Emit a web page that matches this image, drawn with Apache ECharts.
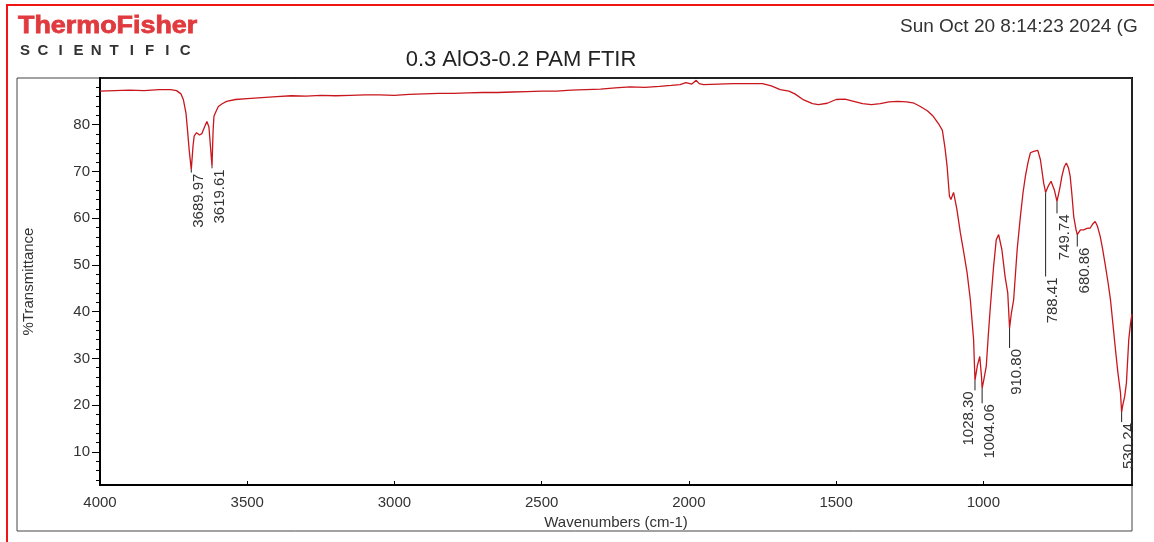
<!DOCTYPE html>
<html>
<head>
<meta charset="utf-8">
<script src="https://cdn.jsdelivr.net/npm/echarts@6/dist/echarts.min.js"></script>
<style>
html,body{margin:0;padding:0;background:#fff;}
#chart{width:1154px;height:542px;}
</style>
</head>
<body>
<div id="chart"></div>
<script>
// ---- data ----
const wavenumbers = [
4000,3950,3900,3850,3800,3760,3740,3725,3717,3708,3703,3697,3689.97,3684,3680,3672,3662,3654,3645,3637,3630,3625,3619.61,3616,3613,3605,3598,3585,3570,3540,
3500,3450,3400,3350,3300,3250,3200,3150,3100,3050,3000,2950,2900,2850,2800,2750,2700,2650,2600,2550,2500,2450,2400,2350,2300,2250,2200,2150,2100,2060,
2030,2010,1990,1975,1965,1950,1900,1850,1800,1750,1720,1690,1660,1640,1610,1580,1560,1530,1500,1470,1440,1410,1380,1350,1320,1290,1260,1235,1214,1190,
1170,1150,1139,1130,1123,1115,1110,1101,1090,1078,1066,1055,1044,1033,1028.30,1020,1012,1006,1004.06,998,990,983,976,965,956,948,937,926,917,910.80,
905,897,885,874,865,857,848,840,829,815,806,795,788.41,780,770,765,759,749.74,740,733,725,718,711,705,699,693,685,680.86,
670,659,648,637,628,620,612,603,595,585,577,568,560,551,543,534,530.24,527,520,514,506,500,495
];
const transmittance = [
87.2,87.3,87.4,87.3,87.5,87.5,87.3,86.6,85.4,82.5,79.0,74.5,70.4,75.5,77.6,78.3,77.8,78.1,79.5,80.7,79.5,75.5,71.1,78.5,81.8,83.0,83.9,84.5,85.0,85.4,
85.6,85.8,86.0,86.2,86.1,86.3,86.2,86.3,86.4,86.4,86.3,86.5,86.6,86.7,86.7,86.8,86.9,86.9,87.0,87.1,87.2,87.2,87.4,87.5,87.6,87.9,88.1,88.0,88.2,88.4,
88.6,89.0,88.7,89.5,88.8,88.6,88.7,88.8,88.8,88.8,88.3,87.5,87.2,86.6,85.3,84.5,84.3,84.6,85.4,85.5,85.0,84.5,84.3,84.5,84.9,85.0,84.9,84.6,83.9,83.0,
81.8,80.0,78.8,75.0,71.1,64.7,64.0,65.5,62.0,56.9,52.5,48.3,42.5,34.0,25.3,28.5,30.4,26.0,23.6,25.5,28.3,35.0,41.1,49.7,55.4,56.5,53.3,47.5,44.0,36.5,
39.5,42.5,53.3,60.4,65.5,69.0,72.0,74.0,74.3,74.5,72.5,67.5,65.5,66.8,67.9,67.5,66.1,63.6,66.5,69.0,71.0,71.8,70.8,69.0,65.0,60.4,57.5,56.5,
57.5,57.5,57.8,57.9,58.8,59.3,58.2,56.1,53.5,49.7,46.5,42.5,37.5,31.8,27.0,22.6,18.5,19.8,21.8,24.7,34.0,37.5,39.5
];
const peakWavenumbers = [3689.97,3619.61,1028.30,1004.06,910.80,788.41,749.74,680.86,530.24];
const peakTransmittance = [70.4,71.1,25.3,23.6,36.5,65.5,63.6,56.5,18.5];
const peakLabels = ['3689.97','3619.61','1028.30','1004.06','910.80','788.41','749.74','680.86','530.24'];
const xTickValues = [4000,3500,3000,2500,2000,1500,1000];
const yTickValues = [10,20,30,40,50,60,70,80];
const yMinorTickValues = [4,6,8,12,14,16,18,22,24,26,28,32,34,36,38,42,44,46,48,52,54,56,58,62,64,66,68,72,74,76,78,82,84,86,88];
const titleText = '0.3 AlO3-0.2 PAM FTIR';
const dateText = 'Sun Oct 20 8:14:23 2024 (G';
const xAxisName = 'Wavenumbers (cm-1)';
const yAxisName = '%Transmittance';

// ---- style (leader line lengths / label offsets in px, per peak label) ----
const leaderStyle = {
  '3689.97':{len:3,dx:0}, '3619.61':{len:2,dx:0}, '1028.30':{len:10,dx:-14},
  '1004.06':{len:15,dx:0}, '910.80':{len:20,dx:0}, '788.41':{len:84,dx:0},
  '749.74':{len:12,dx:0}, '680.86':{len:12,dx:0}, '530.24':{len:10,dx:0}
};

const FONT = '"Liberation Sans", Arial, sans-serif';
const spectrum = wavenumbers.map((w,i)=>[w, transmittance[i]]);
const peaks = peakWavenumbers.map((w,i)=>[w, peakTransmittance[i], peakLabels[i]]);

const chart = echarts.init(document.getElementById('chart'), null, {renderer:'canvas'});

const sciLetters = 'SCIENTIFIC'.split('');
const graphics = [
  {type:'rect', shape:{x:7,y:5,width:1180,height:560}, style:{fill:'none', stroke:'#f01414', lineWidth:2}, silent:true},
  {type:'rect', shape:{x:17,y:78,width:1115,height:453}, style:{fill:'none', stroke:'#444', lineWidth:1}, silent:true},
  {type:'text', x:18, y:38, scaleX:1.12, style:{text:'ThermoFisher', font:'bold 24px '+FONT, fill:'#e03a3e', stroke:'#e03a3e', lineWidth:0.8, verticalAlign:'bottom'}},
  {type:'text', x:521, y:60, style:{text:titleText, font:'22px '+FONT, fill:'#222', align:'center', verticalAlign:'middle'}},
  {type:'text', x:900, y:27, style:{text:dateText, font:'19px '+FONT, fill:'#333', verticalAlign:'middle'}}
];
sciLetters.forEach((ch,i)=>{
  graphics.push({type:'text', x:25 + i*17.8, y:51, style:{text:ch, font:'bold 15px '+FONT, fill:'#333', align:'center', verticalAlign:'middle'}});
});

const option = {
  animation:false,
  backgroundColor:'#fff',
  grid:{left:100, right:22, top:78, bottom:57, show:true, borderColor:'#000', borderWidth:2, containLabel:false, outerBoundsMode:'none'},
  xAxis:[{
    type:'value', inverse:true, min:495, max:4000,
    name:xAxisName, nameLocation:'middle', nameGap:30,
    nameTextStyle:{fontFamily:FONT, fontSize:15, color:'#333'},
    axisLine:{show:true, onZero:false, lineStyle:{color:'#000', width:2}},
    axisTick:{show:true, inside:true, length:4, customValues:xTickValues, lineStyle:{color:'#000'}},
    axisLabel:{customValues:xTickValues, formatter:function(v){return String(v);}, fontFamily:FONT, fontSize:15, color:'#333', margin:10},
    splitLine:{show:false}
  }],
  yAxis:[{
    type:'value', min:2.9, max:90, position:'left',
    name:yAxisName, nameLocation:'middle', nameGap:64,
    nameTextStyle:{fontFamily:FONT, fontSize:15, color:'#333'},
    axisLine:{show:true, onZero:false, lineStyle:{color:'#000', width:2}},
    axisTick:{show:true, length:8, customValues:yTickValues, lineStyle:{color:'#000'}},
    axisLabel:{customValues:yTickValues, fontFamily:FONT, fontSize:15, color:'#333', margin:10},
    splitLine:{show:false}
  },{
    type:'value', min:2.9, max:90, position:'left',
    axisLine:{show:false, onZero:false},
    axisTick:{show:true, length:4, customValues:yMinorTickValues, lineStyle:{color:'#000'}},
    axisLabel:{show:false},
    splitLine:{show:false}
  }],
  graphic:graphics,
  series:[{
    type:'line', data:spectrum, showSymbol:false, symbol:'none', smooth:false,
    lineStyle:{color:'#c8161d', width:1.3}, z:3, silent:true
  },{
    type:'custom', data:peaks, encode:{x:0, y:1}, z:4, silent:true,
    renderItem:function(params, api){
      const p = api.coord([api.value(0), api.value(1)]);
      const lbl = peakLabels[params.dataIndex];
      const st = leaderStyle[lbl] || {len:8, dx:0};
      return {type:'group', children:[
        {type:'line', shape:{x1:p[0], y1:p[1], x2:p[0], y2:p[1]+st.len}, style:{stroke:'#222', lineWidth:1}},
        {type:'text', x:p[0]+st.dx, y:p[1]+st.len+1, rotation:Math.PI/2,
         style:{text:lbl, font:'15px '+FONT, fill:'#333', align:'right', verticalAlign:'top'}}
      ]};
    }
  }]
};
chart.setOption(option);
</script>
</body>
</html>
